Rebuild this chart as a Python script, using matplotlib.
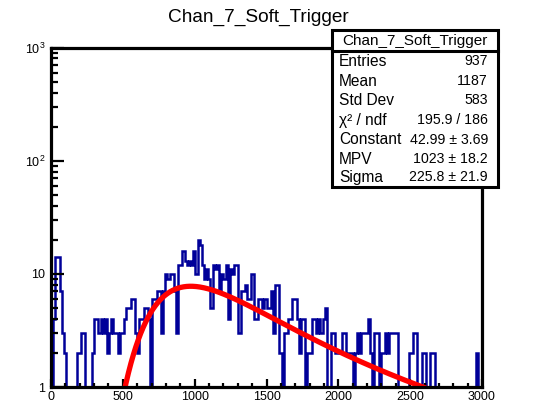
import matplotlib
matplotlib.use("Agg")
import matplotlib.pyplot as plt
from matplotlib.patches import Rectangle
from matplotlib.lines import Line2D
from matplotlib.ticker import FixedLocator, FixedFormatter, MultipleLocator, NullFormatter
import numpy as np

plt.rcParams['font.family'] = ['Liberation Sans', 'DejaVu Sans']
plt.rcParams['mathtext.fontset'] = 'custom'
plt.rcParams['mathtext.rm'] = 'Liberation Sans'

# histogram: 200 bins of 15 from 0 to 3000
x_min, x_max, n_bins = 0, 3000, 200
counts = [
    1, 4, 14, 14, 7, 3, 2, 1, 0, 1, 0, 1, 2, 2, 3, 3, 1, 0, 1, 2,
    4, 4, 3, 4, 3, 4, 2, 3, 4, 3, 3, 2, 3, 3, 4, 5, 5, 6, 6, 3,
    2, 4, 4, 5, 5, 4, 1, 6, 6, 7, 7, 3, 7, 10, 9, 10, 10, 7, 3, 12,
    12, 16, 13, 12, 13, 12, 16, 10, 20, 18, 12, 9, 11, 9, 5, 12, 11, 12, 7, 10,
    9, 12, 4, 11, 10, 12, 12, 3, 7, 7, 8, 6, 6, 10, 4, 4, 6, 6, 5, 6,
    5, 5, 7, 3, 8, 8, 2, 1, 3, 3, 4, 4, 6, 6, 4, 2, 4, 4, 1, 2,
    2, 4, 4, 3, 4, 3, 4, 5, 1, 1, 3, 3, 2, 2, 2, 3, 3, 2, 2, 2,
    1, 2, 3, 2, 3, 3, 3, 4, 2, 1, 3, 3, 1, 2, 2, 3, 2, 3, 3, 3,
    3, 1, 1, 1, 1, 0, 2, 2, 3, 3, 1, 1, 2, 2, 1, 0, 2, 2, 1, 0,
    0, 1, 0, 0, 0, 1, 0, 0, 0, 0, 0, 0, 0, 0, 0, 0, 0, 2, 0, 0,
]

# landau fit parameters
fit_constant, fit_mpv, fit_sigma = 42.99, 1023.0, 225.8

stat_labels = ["Entries", "Mean", "Std Dev", "\u03c7\u00b2 / ndf", "Constant", "MPV", "Sigma"]
stat_values = ["937", "1187", "583", "195.9 / 186", "42.99 \u00b1 3.69",
               "1023 \u00b1 18.2", "225.8 \u00b1 21.9"]

x_ticks = [0, 500, 1000, 1500, 2000, 2500, 3000]
y_ticks = [1, 10, 100, 1000]
y_ticklabels = ["1", "10", "$10^{2}$", "$10^{3}$"]


def landau(lam):
    # standard landau density (as TMath::Landau without normalisation)
    t = np.linspace(1e-9, 50, 20001)
    integrand = np.exp(-t * np.log(t) - np.outer(lam, t)) * np.sin(np.pi * t)
    return np.trapezoid(integrand, t, axis=1) / np.pi


W, H = 538, 405
fig = plt.figure(figsize=(W / 100, H / 100), dpi=100)
ax_l, ax_r, ax_t, ax_b = 51, 482, 47.5, 387
ax = fig.add_axes([ax_l / W, 1 - ax_b / H, (ax_r - ax_l) / W, (ax_b - ax_t) / H])

edges = np.linspace(x_min, x_max, n_bins + 1)
vals = np.array(counts, dtype=float)
vals = np.where(vals > 0, vals, 0.5)
ax.stairs(vals, edges, color='#000099', linewidth=1.8, baseline=None)

xf = np.linspace(450, 3000, 600)
yf = fit_constant * landau((xf - fit_mpv) / fit_sigma)
ax.plot(xf, yf, color='#ff0000', linewidth=3.8, solid_capstyle='butt')

ax.set_yscale('log')
ax.set_xlim(x_min, x_max)
ax.set_ylim(1, 1000)

ax.xaxis.set_major_locator(FixedLocator(x_ticks))
ax.xaxis.set_minor_locator(MultipleLocator(100))
ax.yaxis.set_major_locator(FixedLocator(y_ticks))
ax.yaxis.set_major_formatter(FixedFormatter(y_ticklabels))
ax.yaxis.set_minor_formatter(NullFormatter())

ax.tick_params(axis='both', which='both', direction='in', labelsize=9, width=1.6)
ax.tick_params(axis='x', which='major', length=6, pad=3)
ax.tick_params(axis='x', which='minor', length=3)
ax.tick_params(axis='y', which='major', length=9.5, pad=4)
ax.tick_params(axis='y', which='minor', length=5)
for sp in ax.spines.values():
    sp.set_linewidth(2.3)

# title
fig.text(258 / W, 1 - 17 / H, "Chan_7_Soft_Trigger", ha='center', va='center', fontsize=13.7)

# stats box
bx_l, bx_r, bx_t, bx_b, bx_sep = 332, 498, 30, 187, 51
fig.patches.append(Rectangle((bx_l / W, 1 - bx_b / H), (bx_r - bx_l) / W, (bx_b - bx_t) / H,
                             transform=fig.transFigure, facecolor='white', edgecolor='black',
                             linewidth=2.2, zorder=10))
fig.lines.append(Line2D([bx_l / W, bx_r / W], [1 - bx_sep / H, 1 - bx_sep / H],
                        transform=fig.transFigure, color='black', linewidth=2.2, zorder=11))
fig.text((bx_l + bx_r) / 2 / W, 1 - 40.5 / H, "Chan_7_Soft_Trigger", ha='center', va='center',
         fontsize=11, zorder=12)
row_y = [61, 81, 100.5, 120, 139.5, 159, 177.5]
for lab, val, y in zip(stat_labels, stat_values, row_y):
    fig.text(339 / W, 1 - y / H, lab, ha='left', va='center', fontsize=11.2, zorder=12)
    fig.text(488 / W, 1 - y / H, val, ha='right', va='center', fontsize=10.2, zorder=12)

fig.savefig("out.png", dpi=100)
